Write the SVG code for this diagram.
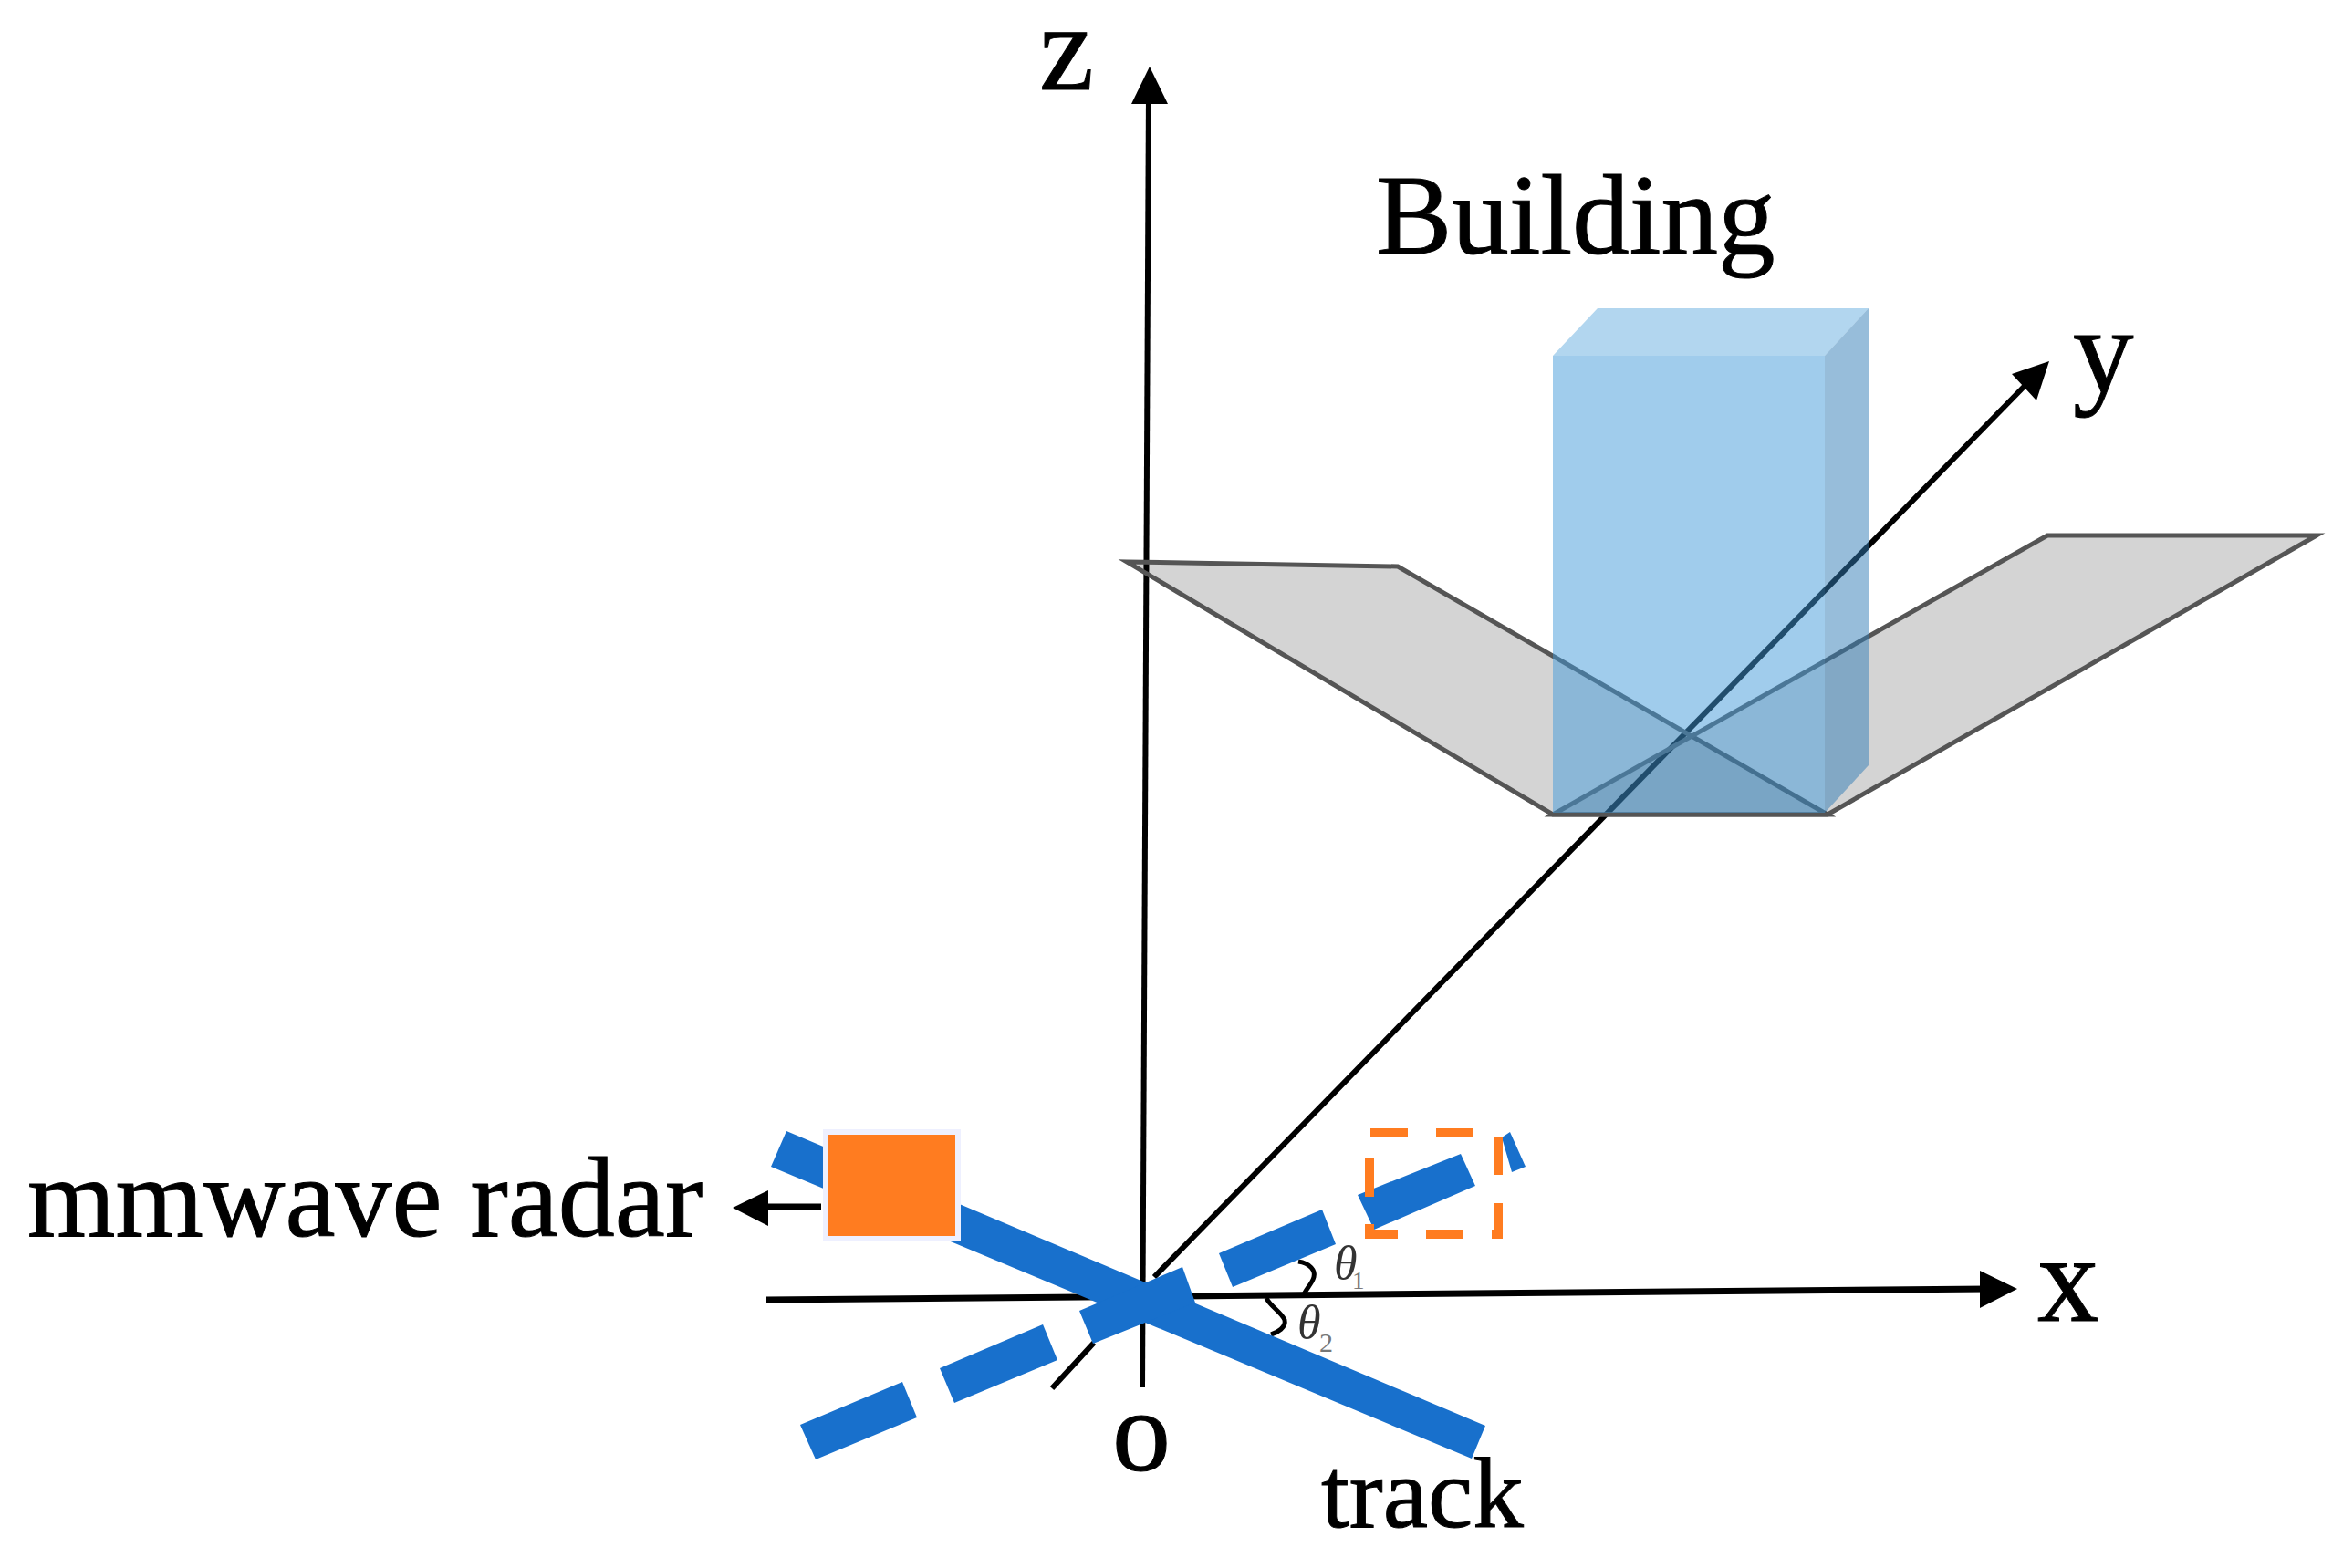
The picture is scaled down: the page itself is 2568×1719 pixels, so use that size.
<svg xmlns="http://www.w3.org/2000/svg" width="2568" height="1719" viewBox="0 0 2568 1719">
<style>
.t{font-family:"Liberation Serif","Times New Roman",serif;fill:#000;stroke:#000;stroke-width:1}
.th{font-family:"Liberation Serif","Times New Roman",serif;font-style:italic;fill:#333;font-size:52px}
.sub{font-family:"Liberation Serif","Times New Roman",serif;fill:#777}
.ax{stroke:#000;fill:none;stroke-linecap:butt}
.trk{fill:#1870CC}
.dash{stroke:#FF7C20;stroke-width:10;fill:none}
.pl{fill:#000;fill-opacity:.17;stroke:#555;stroke-width:5}
.ah{fill:#000}
</style>
<rect width="2568" height="1719" fill="#fff"/>
<g id="connectors">
<path class="ax" stroke-width="6" d="M1252 1521L1259 100"/>
<polygon class="ah" points="1260,73 1240,114 1280,114"/>
<path class="ax" stroke-width="7" d="M840 1425L2180 1413"/>
<polygon class="ah" points="2211,1413 2170,1393 2170,1434"/>
<path class="ax" stroke-width="6" d="M1265 1400L2225 417"/>
<path class="ax" stroke-width="6" d="M1153 1522L1199 1472"/>
<polygon class="ah" points="2246,396 2205,410 2232,439"/>
<path class="ax" stroke-width="7" d="M900 1323H835"/>
<polygon class="ah" points="803,1324 842,1305 842,1344"/>
<path class="ax" stroke-width="5" d="M1423 1383C1436 1385 1442 1393 1440 1400C1438 1408 1430 1414 1428 1422"/>
<path class="ax" stroke-width="5" d="M1388 1423C1392 1432 1404 1438 1408 1447C1410 1455 1400 1461 1393 1463"/>
</g>
<g id="plane"><polygon class="pl" points="1235,616 1532,621 2003,893 1702,893"/><polygon class="pl" points="2244,587 2539,587 2003,893 1702,893"/></g>
<g id="building">
<polygon points="1702,390 1751,338 2048,338 2000,390" fill="#66AEDF" fill-opacity=".5"/>
<polygon points="2000,390 2048,338 2048,839 2000,891" fill="#2F7CB5" fill-opacity=".5"/>
<rect x="1702" y="390" width="298" height="501" fill="#4199D9" fill-opacity=".5"/>
</g>
<g id="track">
<polygon class="trk" points="862,1240 845,1279 1613,1599 1628,1563"/>
<polygon class="trk" points="877,1562 894,1600 1005,1554 989,1515"/>
<polygon class="trk" points="1030,1500 1046,1538 1159,1491 1143,1452"/>
<polygon class="trk" points="1183,1437 1198,1473 1310,1428 1296,1389"/>
<polygon class="trk" points="1336,1374 1351,1411 1464,1364 1449,1326"/>
<polygon class="trk" points="1488,1310 1506,1348 1617,1300 1601,1265"/>
<polygon class="trk" points="1655,1241 1672,1279 1657,1285 1646,1247"/>
</g>
<g id="radar"><rect x="905" y="1241" width="145" height="117" fill="#FF7C20" stroke="#EEF0FF" stroke-width="6"/></g>
<g id="radar-ghost">
<path class="dash" d="M1502 1242h41M1574 1242h41M1496 1353h36M1563 1353h40M1635 1353h12M1501 1270v42M1501 1342v12M1642 1247v41M1642 1319v39"/>
</g>
<g id="labels">
<text class="t" x="1139" y="98" font-size="135">z</text>
<text class="t" x="1508" y="278" font-size="125">Building</text>
<text class="t" x="2272" y="430" font-size="133">y</text>
<text class="t" x="30" y="1355" font-size="124">mmwave radar</text>
<text class="t" x="2233" y="1448" font-size="135">x</text>
<text class="t" x="1219" y="1612" font-size="128">o</text>
<text class="t" x="1448" y="1674" font-size="111">track</text>
<text class="th" x="1462" y="1402">θ</text>
<text class="sub" x="1482" y="1413" font-size="27">1</text>
<text class="th" x="1422" y="1467">θ</text>
<text class="sub" x="1446" y="1482" font-size="30">2</text>
</g>
</svg>
